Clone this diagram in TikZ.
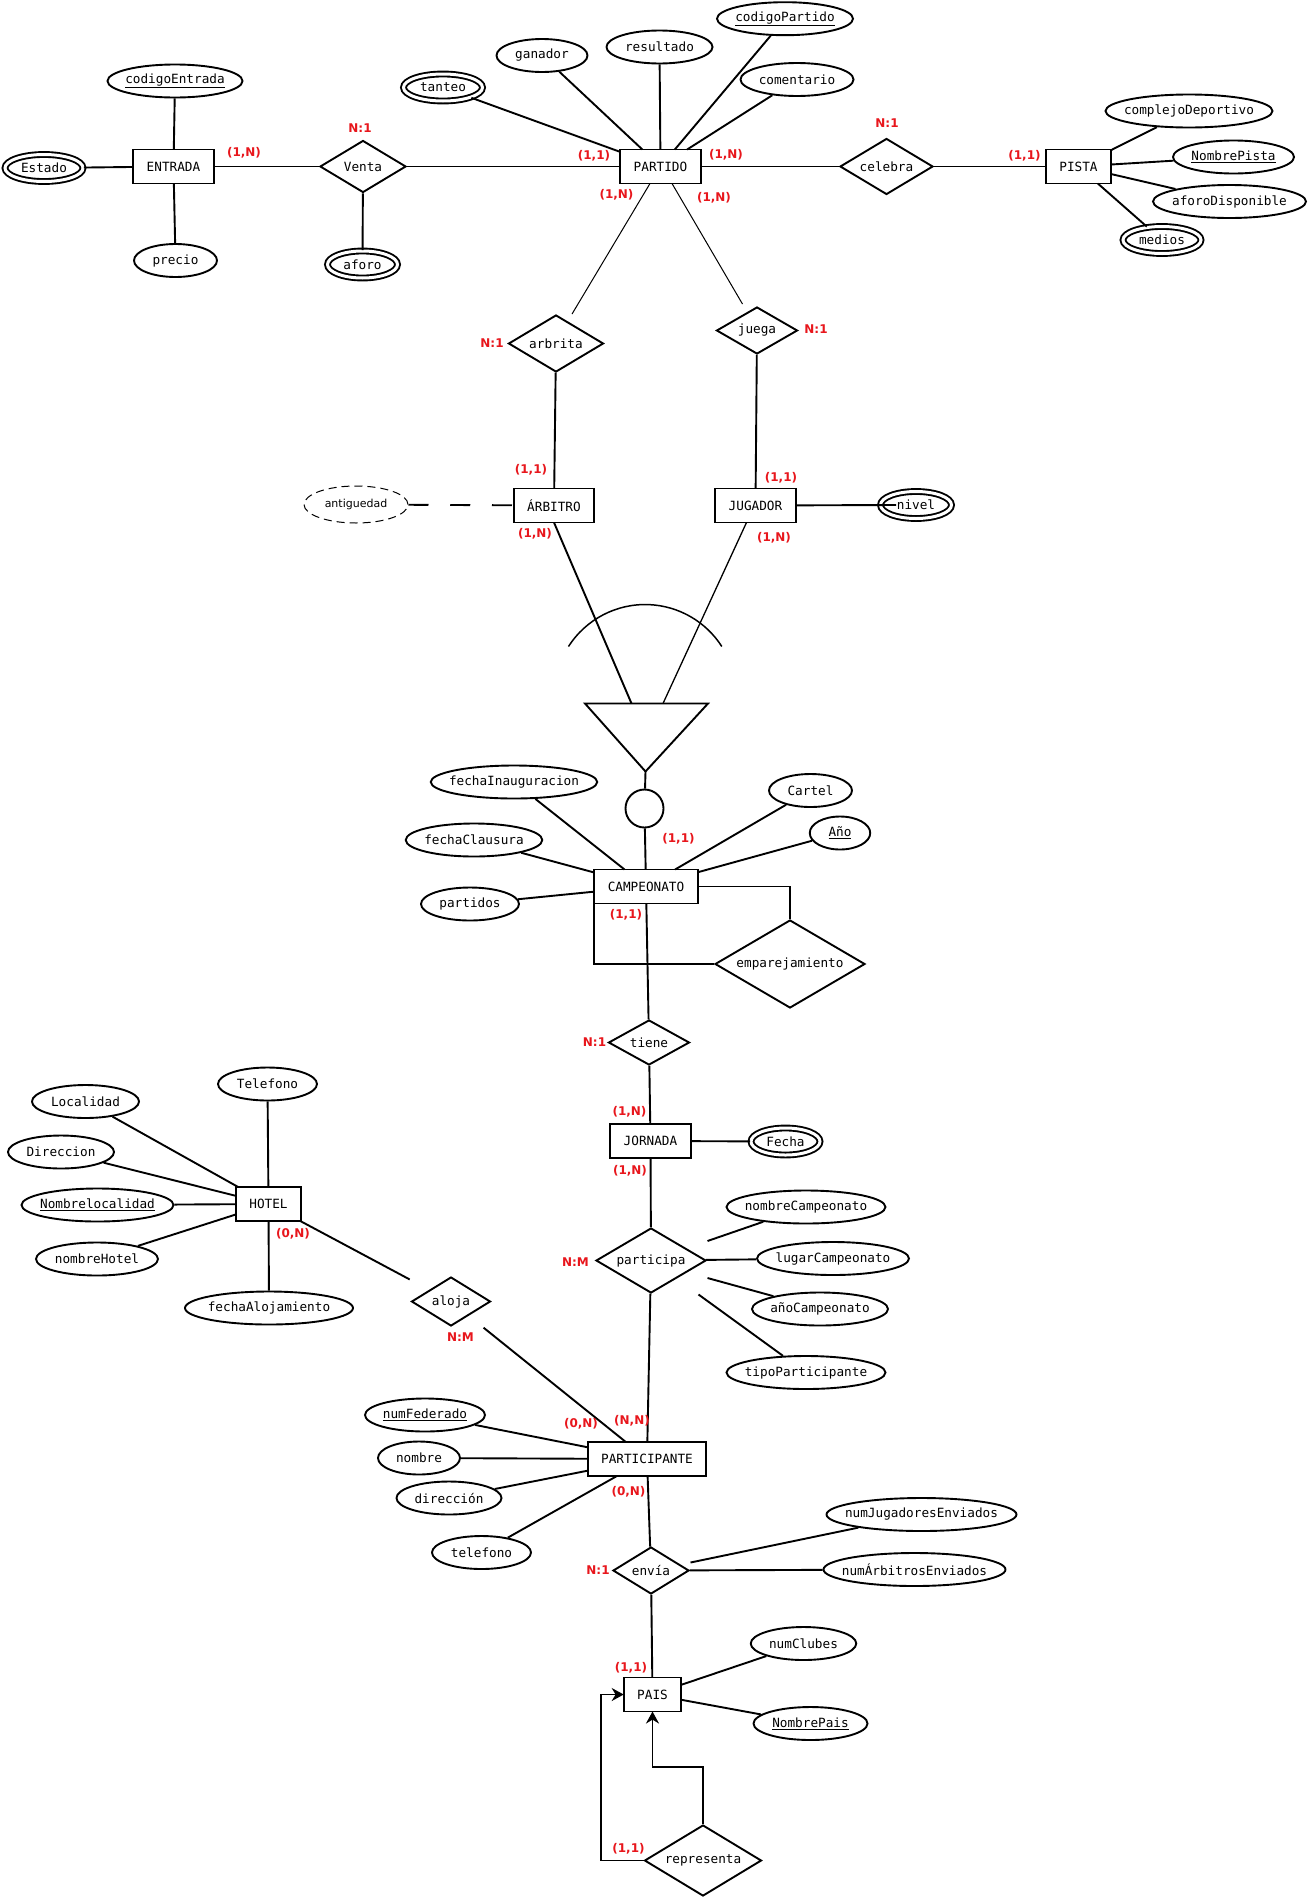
\documentclass[tikz,border=0pt]{standalone}
\usepackage{fontspec}
\usetikzlibrary{shapes.geometric,arrows.meta}
\newfontfamily\erfont{DejaVu Sans Mono}
\newfontfamily\cardfont{DejaVu Sans}
\definecolor{cardred}{RGB}{232,22,28}
\begin{document}
\begin{tikzpicture}[x=1pt,y=-1pt,line width=1.9pt,
  every node/.style={font=\erfont\fontsize{12.7}{15}\selectfont},
  ent/.style={draw,rectangle,inner xsep=13.5pt,inner ysep=0pt,minimum height=34pt,outer sep=0pt},
  attr/.style={draw,ellipse,inner xsep=-12pt,inner ysep=0pt,minimum height=33pt,minimum width=#1},
  mv/.style={attr=#1,double,double distance=3pt,minimum height=27pt},
  rel/.style 2 args={draw,diamond,aspect=2,inner sep=0pt,minimum width=#1,minimum height=#2},
  card/.style={text=cardred,font=\cardfont\bfseries\fontsize{12}{14}\selectfont},
  thinline/.style={line width=1pt},
  arrowto/.style={-{Stealth[length=12pt,width=13pt]}}]
\fill[white] (0,0) rectangle (1310,1898);
\useasboundingbox (0,0) rectangle (1310,1898);

\node[mv=78] (estado) at (44,168) {Estado};
\node[ent] (entrada) at (173.5,166.5) {ENTRADA};
\node[attr=135] (codEnt) at (175,81) {\underline{codigoEntrada}};
\node[attr=83] (precio) at (175.5,260.5) {precio};
\node[rel={86}{52}] (venta) at (363,166.5) {Venta};
\node[mv=70] (aforo) at (362.5,264.5) {aforo};
\node[ent] (partido) at (660.5,166.5) {PARTIDO};
\node[mv=79] (tanteo) at (443,87.5) {tanteo};
\node[attr=91] (ganador) at (542,55.5) {ganador};
\node[attr=106] (resultado) at (659.5,47) {resultado};
\node[attr=136] (codPart) at (785,18.7) {\underline{codigoPartido}};
\node[attr=113] (comentario) at (797,79.5) {comentario};
\node[rel={93}{56}] (celebra) at (886.5,166.5) {celebra};
\node[ent] (pista) at (1078.5,166.5) {PISTA};
\node[attr=167] (complejo) at (1189,111) {complejoDeportivo};
\node[attr=121] (nomPista) at (1233.5,157) {\underline{NombrePista}};
\node[attr=153] (aforoDisp) at (1229.5,201.5) {aforoDisponible};
\node[mv=78] (medios) at (1162,240) {medios};

\foreach \a in {estado,codEnt,precio,venta} \draw (entrada) -- (\a);
\draw (venta) -- (aforo);
\foreach \a in {venta,tanteo,ganador,resultado,codPart,comentario,celebra} \draw (partido) -- (\a);
\foreach \a in {celebra,complejo,nomPista,aforoDisp,medios} \draw (pista) -- (\a);

\node[rel={95}{57}] (arbrita) at (556,343.5) {arbrita};
\node[rel={81}{47}] (juega) at (757,330.5) {juega};
\node[ent] (arbitro) at (554,505.5) {ÁRBITRO};
\node[ent] (jugador) at (755.5,505.5) {JUGADOR};
\node[attr=104,line width=1pt,dash pattern=on 8pt off 5pt,minimum height=37pt,
  font=\cardfont\fontsize{11}{13}\selectfont] (antig) at (356,504.5) {antiguedad};
\node[mv=71] (nivel) at (916,505) {nivel};

\draw[thinline] ([xshift=-10.5pt]partido.south) -- ([xshift=16pt]arbrita.north);
\draw[thinline] ([xshift=11.5pt]partido.south) -- ([xshift=-14.5pt,yshift=2pt]juega.north);
\draw (arbrita) -- (arbitro);
\draw (juega) -- (jugador);
\draw[dash pattern=on 20pt off 21.75pt] (antig) -- (arbitro);
\draw (jugador) -- ([xshift=-20pt]nivel.center);

\coordinate (tL) at (585,703.5);
\coordinate (tR) at (708,703.5);
\coordinate (tB) at (645.5,771.5);
\coordinate (tA) at (631.5,703.5);
\coordinate (tJ) at (663,703.5);
\draw (tL) -- (tR) -- (tB) -- cycle;
\draw (arbitro.south) -- (tA);
\draw[line width=1.3pt] ([xshift=-9pt]jugador.south) -- (tJ);
\draw[line width=1.5pt] (568.5,646.5) arc[start angle=147.4,end angle=32.6,radius=91pt];
\node[draw,circle,inner sep=0pt,minimum size=38pt] (isa) at (644.5,808.5) {};

\node[ent] (campeonato) at (646,886.5) {CAMPEONATO};
\node[attr=166.5] (fechaIna) at (514,782) {fechaInauguracion};
\node[attr=136.5] (fechaCla) at (474,840) {fechaClausura};
\node[attr=98] (partidos) at (470,904) {partidos};
\node[attr=83] (cartel) at (810.5,790.5) {Cartel};
\node[attr=60.5] (anio) at (840,833) {\underline{Año}};
\node[rel={150}{88}] (empar) at (790,964) {emparejamiento};
\node[rel={81}{45}] (tiene) at (649,1042.5) {tiene};
\node[ent] (jornada) at (650.5,1141) {JORNADA};
\node[mv=69] (fecha) at (785.5,1141.5) {Fecha};
\node[rel={110}{65}] (participa) at (651,1260.5) {participa};
\node[attr=159] (nomCamp) at (806,1207) {nombreCampeonato};
\node[attr=152] (lugarCamp) at (833,1258.5) {lugarCampeonato};
\node[attr=136] (anioCamp) at (820,1309) {añoCampeonato};
\node[attr=159] (tipoPart) at (806,1372.5) {tipoParticipante};

\draw (tB) -- (isa);
\draw (isa) -- (campeonato);
\foreach \a in {fechaIna,fechaCla,partidos,cartel,anio,tiene} \draw (campeonato) -- (\a);
\draw (campeonato.east) -| (empar.north);
\draw (campeonato.south west) |- (empar.west);
\draw (tiene) -- (jornada);
\draw (jornada) -- (fecha);
\draw (jornada) -- (participa);
\draw (participa) -- (lugarCamp);
\coordinate (pa1) at (707.5,1241);
\coordinate (pa2) at (707.5,1278);
\coordinate (pa3) at (698.5,1294.5);
\draw (pa1) -- (nomCamp);
\draw (pa2) -- (anioCamp);
\draw (pa3) -- (tipoPart);

\node[ent] (hotel) at (268.5,1204) {HOTEL};
\node[attr=99] (telefonoH) at (267.5,1084) {Telefono};
\node[attr=107] (localidad) at (85.5,1101.5) {Localidad};
\node[attr=106] (direccion) at (61,1152) {Direccion};
\node[attr=152] (nomLoc) at (97.5,1205) {\underline{Nombrelocalidad}};
\node[attr=122] (nomHotel) at (97,1259) {nombreHotel};
\node[attr=168] (fechaAloj) at (269,1308) {fechaAlojamiento};
\node[rel={79}{49}] (aloja) at (451,1301.5) {aloja};
\node[ent] (participante) at (647,1459) {PARTICIPANTE};
\node[attr=120] (numFed) at (425,1415) {\underline{numFederado}};
\node[attr=82] (nombre) at (419,1458) {nombre};
\node[attr=105] (direccionP) at (449,1498) {dirección};
\node[attr=99] (telefonoP) at (481.5,1552.5) {telefono};
\node[rel={76}{47}] (envia) at (651,1570.5) {envía};
\node[attr=190] (numJug) at (921.5,1514.5) {numJugadoresEnviados};
\node[attr=182] (numArb) at (914.5,1569.5) {numÁrbitrosEnviados};
\node[ent] (pais) at (652.5,1694.5) {PAIS};
\node[attr=105.5] (numClubes) at (803.5,1643.5) {numClubes};
\node[attr=114] (nomPais) at (810.5,1723.5) {\underline{NombrePais}};
\node[rel={117}{71}] (repr) at (703,1860.5) {representa};

\foreach \a in {telefonoH,localidad,direccion,nomLoc,nomHotel,fechaAloj} \draw (hotel) -- (\a);
\draw[shorten >=22pt] (hotel) -- (aloja);
\draw[shorten <=19pt] (aloja) -- (participante);
\draw (participa) -- (participante);
\foreach \a in {numFed,nombre,direccionP,telefonoP,envia} \draw (participante) -- (\a);
\coordinate (en1) at (690.5,1562.5);
\draw (en1) -- (numJug);
\draw (envia) -- (numArb);
\draw (envia) -- (pais);
\draw (pais) -- (numClubes);
\draw (pais) -- (nomPais);
\draw[arrowto] (repr.west) -- ++(-42.5,0) |- (pais.west);
\draw[arrowto] (repr.north) -- ++(0,-57) -| (pais.south);

\foreach \t/\x/\y [count=\i] in {
  {(1,N)}/244/153, N:1/360/128, {(1,1)}/594/155.5, {(1,N)}/616.5/194.5,
  {(1,N)}/726/154.5, {(1,N)}/714/197.5, N:1/887/123.5, {(1,1)}/1024.5/156,
  N:1/492/343.5, N:1/816/329, {(1,1)}/531/470, {(1,N)}/535/534,
  {(1,1)}/781/478, {(1,N)}/774/538, {(1,1)}/678.5/838.5, {(1,1)}/626/915,
  N:1/594.5/1042.5, {(1,N)}/629.5/1111.5, {(1,N)}/630/1170.5, N:M/575.5/1262.5,
  {(N,N)}/632/1421, {(0,N)}/581/1423.5, {(0,N)}/293/1233.5, N:M/460.5/1337.5,
  {(0,N)}/628.5/1491.5, N:1/598/1570.5, {(1,1)}/631/1667.5, {(1,1)}/628.5/1849}
  \node[card] (card\i) at (\x,\y) {\t};
\end{tikzpicture}
\end{document}
